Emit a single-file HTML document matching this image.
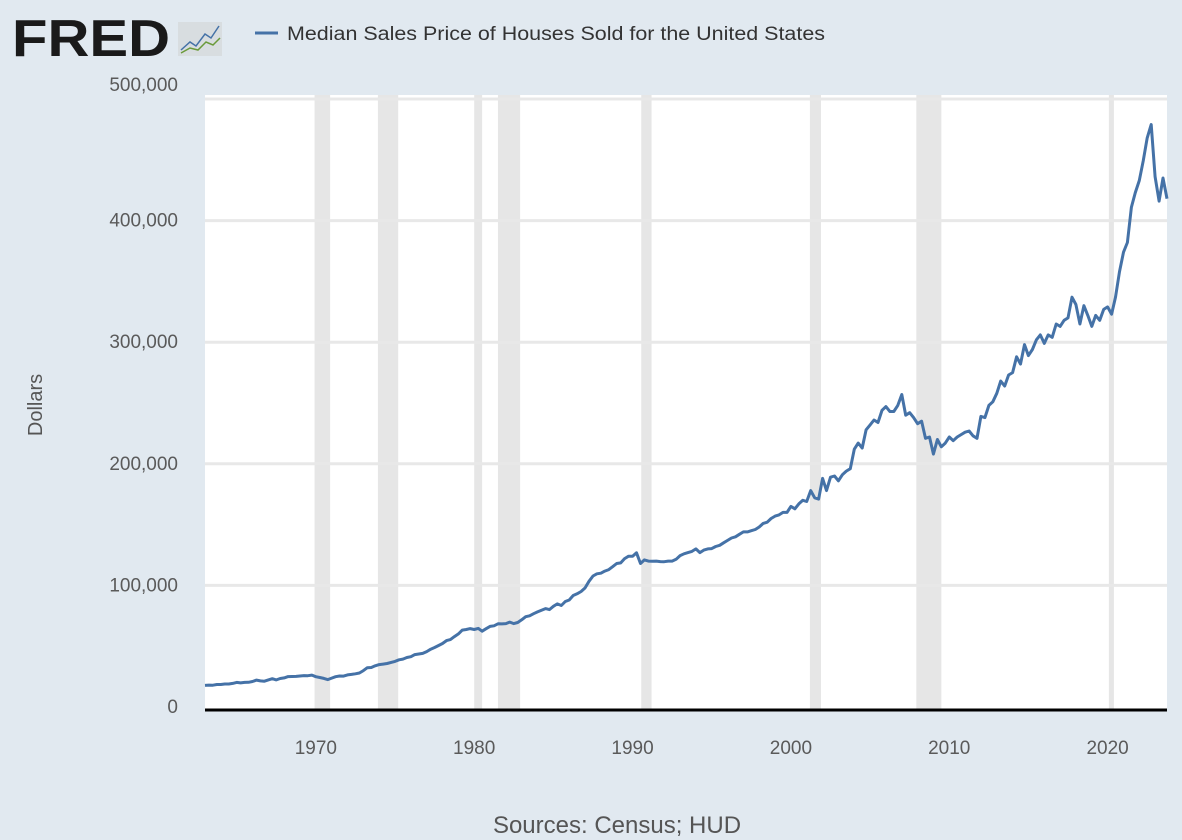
<!DOCTYPE html>
<html><head><meta charset="utf-8"><style>
body{margin:0;background:#e1e9f0;font-family:"Liberation Sans",sans-serif;}
#wrap{position:relative;width:1182px;height:840px;overflow:hidden;background:#e1e9f0;}
</style></head><body>
<div id="wrap">
<svg id="chart" width="1182" height="840">
<g>
<text x="12" y="56" font-size="52" font-weight="bold" fill="#1a1a1a" textLength="158" lengthAdjust="spacingAndGlyphs">FRED</text>
<rect x="178" y="22" width="44" height="34" fill="#d8dde0"/>
<polyline points="181,50 190,42 196,46 205,34 211,38 219,26" fill="none" stroke="#4572a7" stroke-width="1.5"/>
<polyline points="181,53 190,48 198,50 206,42 213,45 220,38" fill="none" stroke="#6a9a3a" stroke-width="1.5"/>
</g>
<line x1="255" y1="33" x2="278" y2="33" stroke="#4572a7" stroke-width="3"/>
<text x="287" y="40" font-size="19" fill="#333" textLength="538" lengthAdjust="spacingAndGlyphs">Median Sales Price of Houses Sold for the United States</text>
<rect x="205" y="95" width="962" height="615" fill="#fff"/>
<g id="rec"></g>
<g id="grid"></g>
<g id="ylab"></g>
<g id="xlab"></g>
<path id="line" fill="none" stroke="#4572a7" stroke-width="3" stroke-linejoin="round"/>
<line x1="205" y1="710" x2="1167" y2="710" stroke="#000" stroke-width="3"/>
<text transform="translate(42,405) rotate(-90)" text-anchor="middle" font-size="20" fill="#555">Dollars</text>
<text x="617" y="833" text-anchor="middle" font-size="24" fill="#555">Sources: Census; HUD</text>
</svg>
</div>
<script>
const startYear = 1963;
const prices = [
17.8,18,17.9,18.5, 18.5,18.9,18.9,19.4, 20.2,19.8,20.2,20.3, 21,22.1,21.5,21.2,
22.3,23.3,22.3,23.4, 23.9,25,25.1,25.2, 25.5,25.8,25.7,26.2, 24.9,24.3,23.5,22.5,
23.8,24.9,25.5,25.4, 26.4,26.8,27.3,28, 29.9,32.3,32.5,33.9, 34.9,35.3,35.8,36.7,
37.5,38.8,39.4,40.7, 41.4,43.1,43.6,44.1, 45.6,47.5,48.9,50.6, 52.2,54.6,55.4,57.9,
60.1,63.2,63.7,64.5, 63.7,64.6,62.3,64.4, 66.3,66.8,68.4,68.3, 68.6,69.8,68.6,69.5,
71.7,74.3,75.0,76.7, 78.2,79.6,80.9,80.1, 82.8,84.8,83.5,86.8, 88,91.7,93.1,95,
97.9,103.4,107.7,109.5, 110,111.8,113,115.5, 118,118.5,122,124, 123.9,126.8,118,121,
120,119.9,120,119.6, 119.5,120,120,121.5, 124.5,126,127,128, 130,127,129,130,
130.3,132,133,135, 137,139,140,142, 144,144,145,146, 148,151,152,155,
157,158,160,160, 165,163,167,170, 169,178,172,171, 188,178,189,190,
186,191,194,196, 212,217,213,228, 232,236,234,244, 247,243,243,248,
257,240,242,238, 233,235,221,222, 208,220,214,217, 222,219,222,224,
226,227,223,221, 239,238,248,251, 258,268,264,273, 275,288,282,298,
289,294,302,306, 299,306,304,315, 313,318,320,337, 331,315,330,322,
313,322,318,327, 329,323,337,358, 374,382,411,423, 433,449,468,479,
436,416,435,418];
const recStarts = [1969.92,1973.92,1980.0,1981.5,1990.55,2001.2,2007.92,2020.08];
const recEnds = [1970.9,1975.2,1980.5,1982.9,1991.2,2001.9,2009.5,2020.35];
const yTicks = [0,100000,200000,300000,400000,500000];
const xTicks = [1970,1980,1990,2000,2010,2020];
const NS="http://www.w3.org/2000/svg";
const X0=1963, X1=2023.75, PX0=205, PX1=1167, PY0=707, PY1=99;
function xs(t){return PX0+(t-X0)/(X1-X0)*(PX1-PX0);}
function ys(v){return PY0-(v/500000)*(PY0-PY1);}
function mk(tag,attrs,parent){const e=document.createElementNS(NS,tag);for(const k in attrs)e.setAttribute(k,attrs[k]);parent.appendChild(e);return e;}
const rec=document.getElementById('rec');
recStarts.forEach((s,i)=>{const r=mk('rect',{x:xs(s),y:95,width:Math.max(xs(recEnds[i])-xs(s),5),height:615,fill:'#e6e6e6'},rec);

});
const grid=document.getElementById('grid'), ylab=document.getElementById('ylab');
yTicks.forEach(v=>{
 if(v>0){const l=mk('line',{x1:205,x2:1167,y1:ys(v),y2:ys(v),stroke:'#e8e8e8','stroke-width':3},grid);
 
 }
 const t=mk('text',{x:178,y:ys(v)+(v===500000?-8:6),'text-anchor':'end','font-size':19,fill:'#5a5a5a'},ylab);
 t.textContent=v===0?'0':v.toLocaleString('en-US');
 
 
});
const xlab=document.getElementById('xlab');
xTicks.forEach(y=>{const t=mk('text',{x:xs(y),y:754,'text-anchor':'middle','font-size':19,fill:'#5a5a5a'},xlab);
 t.textContent=y;
 
 });
let d='';prices.forEach((p,i)=>{const t=startYear+i/4;d+=(i?'L':'M')+xs(t).toFixed(1)+','+ys(p*1000).toFixed(1);});
document.getElementById('line').setAttribute('d',d);
</script>
</body></html>
